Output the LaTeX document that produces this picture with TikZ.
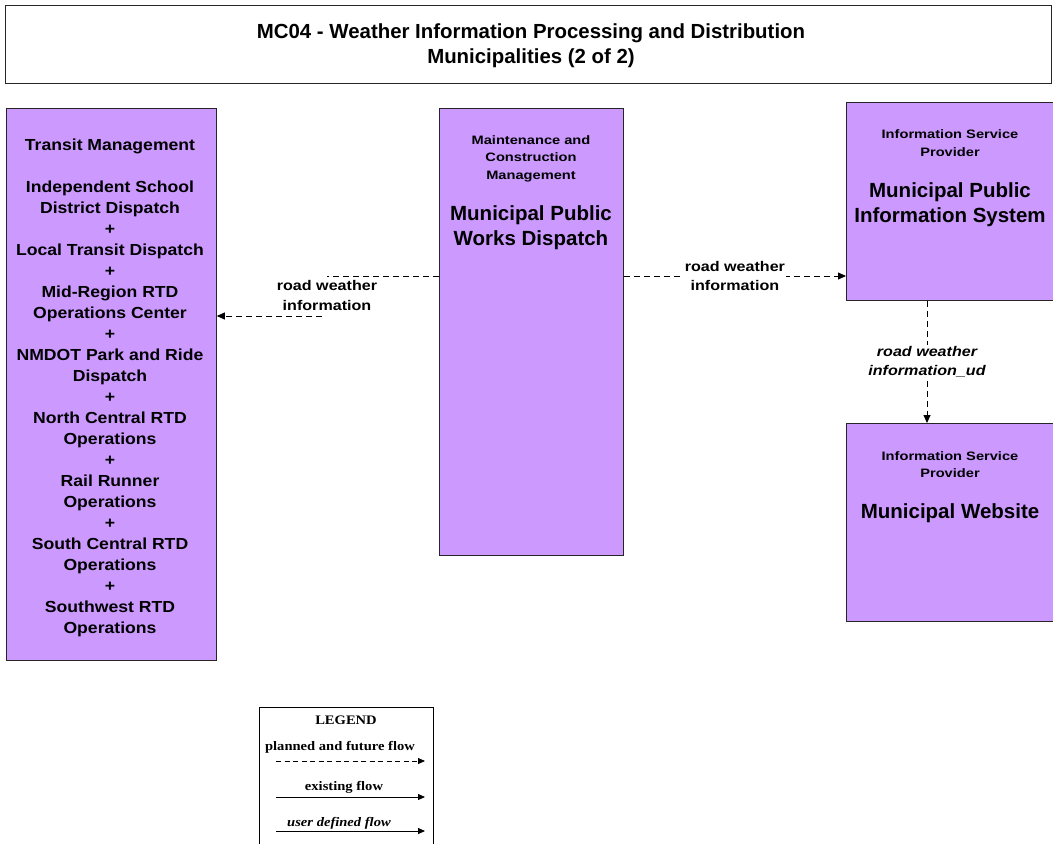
\documentclass[tikz,border=0pt]{standalone}
\usepackage{fontspec}
\setmainfont{Liberation Sans}
\newfontfamily\listsans[FakeStretch=1.1]{Liberation Sans}
\newfontfamily\rolesans[FakeStretch=1.2]{Liberation Sans}
\newfontfamily\labelsans[FakeStretch=1.15]{Liberation Sans}
\newfontfamily\legendfont[FakeStretch=1.12]{Liberation Serif}
\usetikzlibrary{arrows.meta,positioning}
\definecolor{elemfill}{HTML}{CC99FF}

\begin{document}
\begin{tikzpicture}[x=1pt,y=-1pt,
  elem/.style={draw=black!85, fill=elemfill, line width=0.8pt, anchor=north west, inner sep=0pt},
  roletxt/.style={align=center, font=\rolesans\bfseries\fontsize{12.2}{17.5}\selectfont},
  elemtxt/.style={align=center, font=\bfseries\fontsize{20.5}{25}\selectfont},
  listtxt/.style={align=center, font=\listsans\bfseries\fontsize{16}{21}\selectfont},
  lbl/.style={align=center, fill=white, inner sep=1pt, font=\labelsans\bfseries\fontsize{14}{19.5}\selectfont},
  flow/.style={draw=black, line width=0.8pt, dash pattern=on 6pt off 4pt, -{Triangle[length=8pt,width=7pt]}},
  legtxt/.style={font=\legendfont\bfseries\fontsize{13}{13}\selectfont},
  legarrow/.style={line width=0.8pt, -{Triangle[length=7pt,width=6pt]}}
]
\useasboundingbox (0,0) rectangle (1053,844);

% title
\node[draw=black!85, line width=0.8pt, anchor=north west, minimum width=1046pt, minimum height=78pt] (title) at (5,5) {};
\node[align=center, font=\bfseries\fontsize{20.4}{25}\selectfont] (titletxt) at (531,45.5)
  {MC04 - Weather Information Processing and Distribution\\Municipalities (2 of 2)};

% elements
\node[elem, minimum width=210pt, minimum height=552pt] (tm) at (6,108) {};
\node[listtxt] (tmtxt) at (110,388) {Transit Management\\[21pt]
  Independent School\\District Dispatch\\+\\Local Transit Dispatch\\+\\
  Mid-Region RTD\\Operations Center\\+\\NMDOT Park and Ride\\Dispatch\\+\\
  North Central RTD\\Operations\\+\\Rail Runner\\Operations\\+\\
  South Central RTD\\Operations\\+\\Southwest RTD\\Operations};

\node[elem, minimum width=184pt, minimum height=447pt] (mcm) at (439,108) {};
\node[roletxt] (mcmrole) at (531,158.5) {Maintenance and\\Construction\\Management};
\node[elemtxt] (mcmname) at (531,227.5) {Municipal Public\\Works Dispatch};

\node[elem, minimum width=212pt, minimum height=198pt] (isp1) at (846,102) {};
\node[roletxt] (isp1role) at (950,143) {Information Service\\Provider};
\node[elemtxt] (isp1name) at (950,204.5) {Municipal Public\\Information System};

\node[elem, minimum width=212pt, minimum height=198pt] (isp2) at (846,423) {};
\node[roletxt] (isp2role) at (950,464.5) {Information Service\\Provider};
\node[elemtxt] (isp2name) at (950,513) {Municipal Website};

% flows
\coordinate (h1) at (0,276);
\coordinate (c1) at (327,276);
\coordinate (c2) at (322,316);
\coordinate (v1) at (927,0);
\draw[flow] (mcm.west |- h1) -- (c1) (c2) -- (tm.east |- c2);
\node[lbl] (l1) at (327,295.5) {road weather\\information};
\draw[flow] (mcm.east |- h1) -- (isp1.west |- h1)
  node[lbl, midway] (l2) {road weather\\information};
\draw[flow] (isp1.south -| v1) -- (isp2.north -| v1)
  node[lbl, midway, font=\labelsans\bfseries\itshape\fontsize{14}{19}\selectfont] (l3) {road weather\\information\_ud};

% legend
\node[draw=black, line width=0.8pt, anchor=north west, minimum width=174pt, minimum height=150pt] (legend) at (259,707) {};
\node[legtxt] (legtitle) at (346,720) {LEGEND};
\node[legtxt] (legplan) at (340,747) {planned and future flow};
\coordinate (p1) at (276,761);
\coordinate (p2) at (425,761);
\draw[legarrow, dash pattern=on 5pt off 3.5pt] (p1) -- (p2);
\node[legtxt] (legexist) at (344,787) {existing flow};
\coordinate (e1) at (276,797);
\coordinate (e2) at (425,797);
\draw[legarrow] (e1) -- (e2);
\node[legtxt, font=\legendfont\bfseries\itshape\fontsize{13}{13}\selectfont] (leguser) at (339,823) {user defined flow};
\coordinate (u1) at (276,831);
\coordinate (u2) at (425,831);
\draw[legarrow] (u1) -- (u2);

\end{tikzpicture}
\end{document}
